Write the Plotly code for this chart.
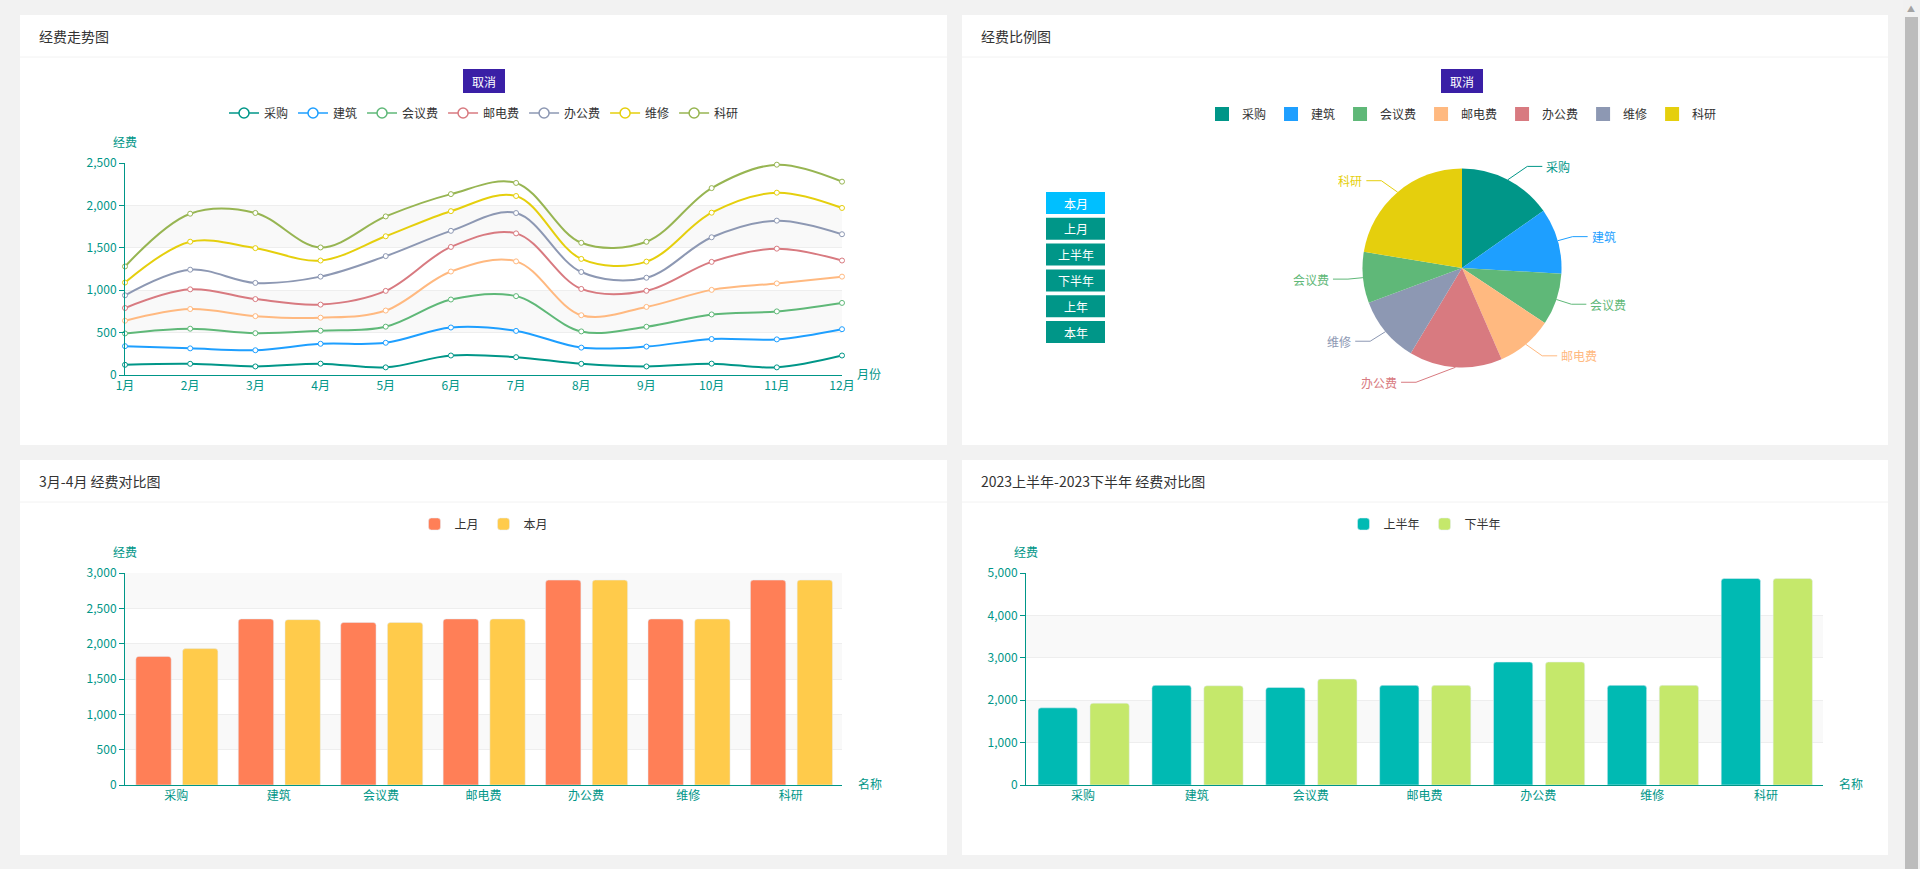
import math
import numpy as np
import plotly.graph_objects as go

W, H = 1920, 869
FONT = "Noto Sans CJK SC, Microsoft YaHei, sans-serif"
TEAL_AXIS = "#009688"


def fx(x):
    return x / W


def fy(y):
    return 1 - y / H


# ---------------- data ----------------
months = ["1月", "2月", "3月", "4月", "5月", "6月", "7月", "8月", "9月", "10月", "11月", "12月"]

line_names = ["采购", "建筑", "会议费", "会议费", "邮电费", "办公费", "维修", "科研"]
line_colors = ["#009688", "#1e9fff", "#5fb878", "#ffb980", "#d87a80", "#8d98b3", "#e5cf0d", "#97b552"]
s_caigou = [120, 132, 101, 134, 90, 230, 210, 132, 101, 134, 90, 230]
s_jianzhu = [220, 182, 191, 234, 290, 330, 310, 191, 234, 290, 330, 310]
s_huiyi = [150, 232, 201, 154, 190, 330, 410, 191, 234, 290, 330, 310]
s_huiyi2 = [150, 232, 201, 154, 190, 330, 410, 191, 234, 290, 330, 310]
s_youdian = [150, 232, 201, 154, 232, 290, 330, 310, 190, 330, 410, 190]
s_bangong = [150, 232, 191, 330, 410, 190, 240, 200, 154, 290, 330, 310]
s_weixiu = [150, 330, 410, 190, 234, 232, 201, 154, 190, 290, 330, 310]
s_keyan = [190, 330, 415, 154, 234, 201, 154, 190, 234, 290, 330, 310]
line_series = [s_caigou, s_jianzhu, s_huiyi, s_huiyi2, s_youdian, s_bangong, s_weixiu, s_keyan]
line_legend_idx = [0, 1, 2, 4, 5, 6, 7]

categories = ["采购", "建筑", "会议费", "邮电费", "办公费", "维修", "科研"]
last_month = [1820, 2350, 2300, 2350, 2900, 2350, 2900]
this_month = [1930, 2340, 2300, 2350, 2900, 2350, 2900]
first_half = [1820, 2350, 2300, 2350, 2900, 2350, 4870]
second_half = [1930, 2340, 2500, 2350, 2900, 2350, 4870]

pie_names = ["采购", "建筑", "会议费", "邮电费", "办公费", "维修", "会议费", "科研"]
pie_values = [335, 234, 185, 201, 332, 235, 182, 492]
pie_legend = ["采购", "建筑", "会议费", "邮电费", "办公费", "维修", "科研"]
pie_color_map = {"采购": "#009688", "建筑": "#1e9fff", "会议费": "#5fb878", "邮电费": "#ffb980",
                 "办公费": "#d87a80", "维修": "#8d98b3", "科研": "#e5cf0d"}

side_buttons = ["本月", "上月", "上半年", "下半年", "上年", "本年"]

fig = go.Figure()

# ---------------- line chart (stacked) ----------------
cum = np.cumsum(np.array(line_series, dtype=float), axis=0)
for i, name in enumerate(line_names):
    fig.add_trace(go.Scatter(
        x=months, y=cum[i], name=name, mode="lines+markers",
        line=dict(color=line_colors[i], width=2, shape="spline", smoothing=1.0),
        marker=dict(symbol="circle", size=5, color="white", line=dict(color=line_colors[i], width=1)),
        showlegend=False, cliponaxis=False, xaxis="x", yaxis="y",
    ))
for i in line_legend_idx:
    fig.add_trace(go.Scatter(
        x=[None], y=[None], name=line_names[i], mode="lines+markers",
        line=dict(color=line_colors[i], width=1.5),
        marker=dict(symbol="circle", size=10, color="white", line=dict(color=line_colors[i], width=1.5)),
        legend="legend", xaxis="x", yaxis="y",
    ))

# ---------------- pie ----------------
pie_labels = []
for n in pie_names:
    lab = n
    while lab in pie_labels:
        lab = lab + " "
    pie_labels.append(lab)
pie_colors = [pie_color_map[n] for n in pie_names]
cx, cy, r = 1462.0, 268.0, 99.5
fig.add_trace(go.Pie(
    labels=pie_labels, values=pie_values, sort=False, direction="clockwise", rotation=0,
    marker=dict(colors=pie_colors, line=dict(width=0)), textinfo="none", showlegend=False,
    domain=dict(x=[fx(cx - r), fx(cx + r)], y=[fy(cy + r), fy(cy - r)]),
    hovertext=pie_names, hoverinfo="text+value+percent", automargin=False,
))
for n in pie_legend:
    fig.add_trace(go.Scatter(
        x=[None], y=[None], name=n, mode="markers",
        marker=dict(symbol="square", size=14, color=pie_color_map[n]),
        legend="legend2", xaxis="x", yaxis="y",
    ))

# ---------------- bar charts ----------------
BW = 0.345
fig.add_trace(go.Bar(x=categories, y=last_month, name="上月", width=BW, offset=-0.394,
                     marker=dict(color="#ff7f57", cornerradius=3), xaxis="x2", yaxis="y2", legend="legend3"))
fig.add_trace(go.Bar(x=categories, y=this_month, name="本月", width=BW, offset=0.062,
                     marker=dict(color="#ffcb4b", cornerradius=3), xaxis="x2", yaxis="y2", legend="legend3"))
fig.add_trace(go.Bar(x=categories, y=first_half, name="上半年", width=BW, offset=-0.394,
                     marker=dict(color="#00bab3", cornerradius=3), xaxis="x3", yaxis="y3", legend="legend4"))
fig.add_trace(go.Bar(x=categories, y=second_half, name="下半年", width=BW, offset=0.062,
                     marker=dict(color="#c5e86b", cornerradius=3), xaxis="x3", yaxis="y3", legend="legend4"))

# ---------------- shapes / annotations ----------------
shapes = []
annotations = []


def text(x, y, t, size=12, color="#333333", xanchor="center"):
    annotations.append(dict(x=fx(x), y=fy(y), xref="paper", yref="paper", text=t, showarrow=False,
                            xanchor=xanchor, yanchor="middle",
                            font=dict(size=size, color=color, family=FONT)))


# scrollbar
shapes.append(dict(type="rect", xref="paper", yref="paper", x0=fx(1903), x1=1, y0=0, y1=1,
                   fillcolor="#f1f1f1", line=dict(width=0), layer="below"))
shapes.append(dict(type="rect", xref="paper", yref="paper", x0=fx(1905), x1=fx(1918), y0=0, y1=fy(17),
                   fillcolor="#bcbcbc", line=dict(width=0), layer="below"))
text(1911, 8, "▲", size=8, color="#a3a3a3")

cards = [(20, 947, 15, 445, "经费走势图"), (962, 1888, 15, 445, "经费比例图"),
         (20, 947, 460, 855, "3月-4月 经费对比图"), (962, 1888, 460, 855, "2023上半年-2023下半年 经费对比图")]
for x0, x1, y0, y1, title in cards:
    shapes.append(dict(type="rect", xref="paper", yref="paper", x0=fx(x0), x1=fx(x1), y0=fy(y1), y1=fy(y0),
                       fillcolor="white", line=dict(width=0), layer="below"))
    shapes.append(dict(type="line", xref="paper", yref="paper", x0=fx(x0), x1=fx(x1), y0=fy(y0 + 42),
                       y1=fy(y0 + 42), line=dict(color="#f2f2f2", width=1), layer="below"))
    text(x0 + 17, y0 + 21, title, size=14, xanchor="left")


def split_bands(xref, yref, bands):
    for b0, b1 in bands:
        shapes.append(dict(type="rect", xref=xref, yref=yref, x0=0, x1=1, y0=b0, y1=b1,
                           fillcolor="#f9f9f9", line=dict(width=0), layer="below"))


split_bands("x domain", "y", [(500, 1000), (1500, 2000)])
split_bands("x2 domain", "y2", [(500, 1000), (1500, 2000), (2500, 3000)])
split_bands("x3 domain", "y3", [(1000, 2000), (3000, 4000)])

# 取消 buttons
for bx in (484, 1462):
    shapes.append(dict(type="rect", xref="paper", yref="paper", x0=fx(bx - 21), x1=fx(bx + 21),
                       y0=fy(93), y1=fy(69), fillcolor="#3a1fa6", line=dict(width=0)))
    text(bx, 81, "取消", color="white")

# side buttons
for k, lab in enumerate(side_buttons):
    top = 192 + k * 25.8
    shapes.append(dict(type="rect", xref="paper", yref="paper", x0=fx(1046), x1=fx(1105),
                       y0=fy(top + 22), y1=fy(top), fillcolor="#00bfff" if k == 0 else "#009688",
                       line=dict(width=0)))
    text(1075.5, top + 11, lab, color="white")

# pie label lines (ECharts-like outside label layout computed from the values)
vals = np.array(pie_values, dtype=float)
ends = np.cumsum(vals) / vals.sum() * 360.0
starts = ends - vals / vals.sum() * 360.0
L1, L2 = 15.0, 15.0
items = []
for i in range(len(vals)):
    th = math.radians((starts[i] + ends[i]) / 2)
    dx, dy = math.sin(th), -math.cos(th)
    d = 1 if dx >= 0 else -1
    items.append(dict(i=i, dir=d, dx=dx, dy=dy, y=cy + (r + L1) * dy, x=cx + (r + L1) * dx + d * L2))
for side in (1, -1):
    lst = sorted([it for it in items if it["dir"] == side], key=lambda t: t["y"])
    up = [it for it in lst if it["y"] < cy]
    down = [it for it in lst if it["y"] >= cy]
    for group, is_down in ((up, False), (down, True)):
        last = 1e9 if is_down else 0.0
        for it in group:
            dyy = abs(it["y"] - cy)
            if dyy < r + L1:
                dxx = math.sqrt((r + L1 + L2) ** 2 - dyy ** 2)
            else:
                dxx = abs(it["x"] - cx)
            if is_down and dxx >= last:
                dxx = last - 10
            if (not is_down) and dxx <= last:
                dxx = last + 10
            it["x"] = cx + dxx * side
            last = dxx
for it in items:
    i = it["i"]
    col = pie_colors[i]
    p0 = (cx + r * it["dx"], cy + r * it["dy"])
    p1 = (it["x"] - it["dir"] * L2, it["y"])
    p2 = (it["x"], it["y"])
    path = "M {} {} L {} {} L {} {}".format(fx(p0[0]), fy(p0[1]), fx(p1[0]), fy(p1[1]), fx(p2[0]), fy(p2[1]))
    shapes.append(dict(type="path", xref="paper", yref="paper", path=path, line=dict(color=col, width=1)))
    text(it["x"] + it["dir"] * 2, it["y"], pie_names[i], color=col,
         xanchor="left" if it["dir"] > 0 else "right")

# axis names
for (x, y, t) in [(125, 141, "经费"), (869, 373, "月份"), (125, 551, "经费"), (870, 783, "名称"),
                  (1026, 551, "经费"), (1851, 783, "名称")]:
    text(x, y, t, color=TEAL_AXIS)

axis_common = dict(showline=True, linecolor=TEAL_AXIS, linewidth=1, zeroline=False, automargin=False,
                   tickfont=dict(size=12, color=TEAL_AXIS, family=FONT), fixedrange=True)
xcat = dict(axis_common, type="category", showgrid=False, ticks="")
ycom = dict(axis_common, showgrid=True, gridcolor="#eeeeee", gridwidth=1, ticks="outside",
            ticklen=5, tickcolor=TEAL_AXIS, tickformat=",")

legend_common = dict(orientation="h", xanchor="center", yanchor="middle", bgcolor="rgba(0,0,0,0)",
                     font=dict(size=12, color="#333333", family=FONT), itemclick=False, itemdoubleclick=False)

fig.update_layout(
    width=W, height=H, autosize=False,
    margin=dict(l=0, r=0, t=0, b=0, pad=0, autoexpand=False),
    paper_bgcolor="#f2f2f2", plot_bgcolor="rgba(0,0,0,0)",
    font=dict(family=FONT, size=12, color="#333333"),
    xaxis=dict(xcat, domain=[fx(125), fx(842)], range=[0, 11], anchor="y"),
    yaxis=dict(ycom, domain=[fy(375), fy(163)], range=[0, 2500], dtick=500, anchor="x"),
    xaxis2=dict(xcat, domain=[fx(125), fx(842)], range=[-0.5, 6.5], anchor="y2"),
    yaxis2=dict(ycom, domain=[fy(785), fy(573)], range=[0, 3000], dtick=500, anchor="x2"),
    xaxis3=dict(xcat, domain=[fx(1026), fx(1823)], range=[-0.5, 6.5], anchor="y3"),
    yaxis3=dict(ycom, domain=[fy(785), fy(573)], range=[0, 5000], dtick=1000, anchor="x3"),
    legend=dict(legend_common, x=fx(484), y=fy(113)),
    legend2=dict(legend_common, x=fx(1462), y=fy(114)),
    legend3=dict(legend_common, x=fx(484), y=fy(524)),
    legend4=dict(legend_common, x=fx(1425), y=fy(524)),
    shapes=shapes, annotations=annotations,
    barmode="overlay", hovermode="closest",
)

fig.write_html("out.html", config={"displayModeBar": False},
               post_script="document.body.style.margin='0';document.body.style.overflow='hidden';")
